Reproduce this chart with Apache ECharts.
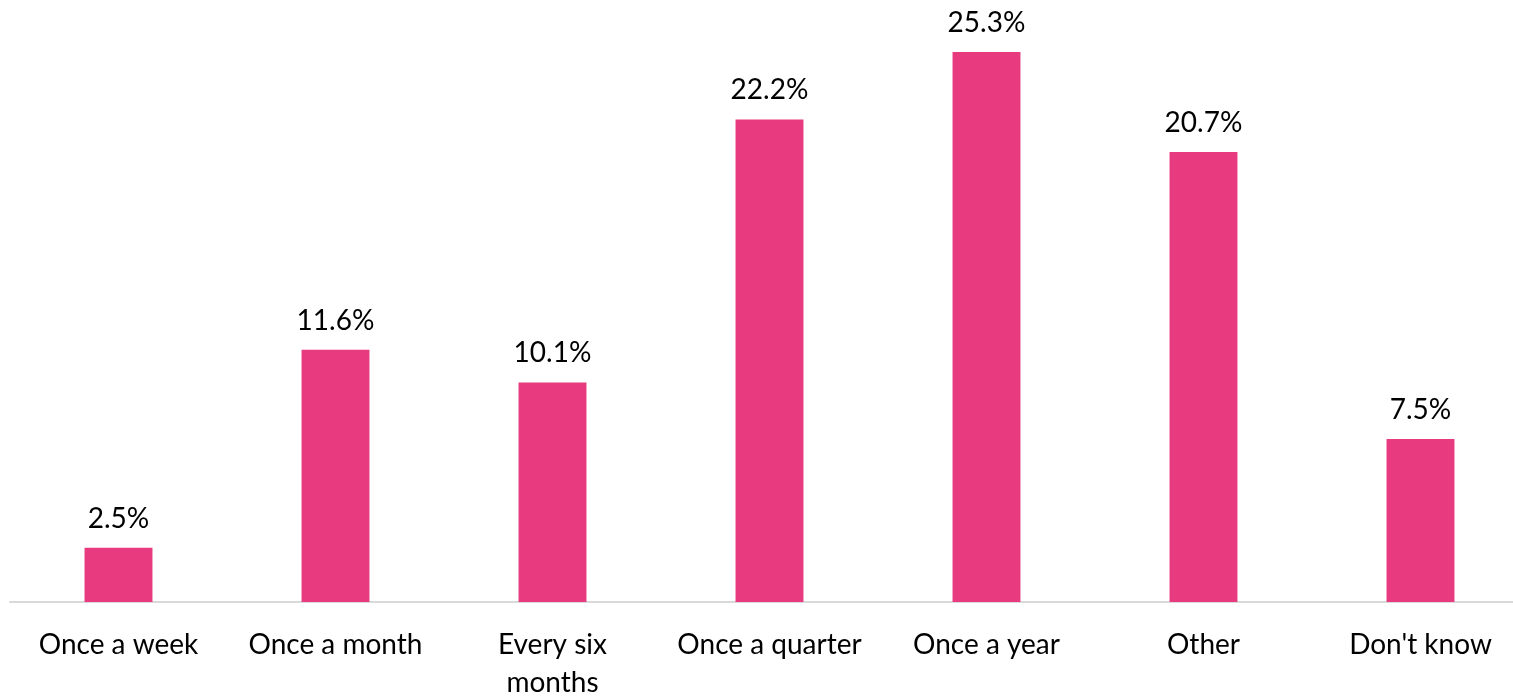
<!DOCTYPE html>
<html>
<head>
<meta charset="utf-8">
<script src="https://cdn.jsdelivr.net/npm/echarts@6/dist/echarts.min.js"></script>
<style>
  html, body { margin: 0; padding: 0; background: #ffffff; overflow: hidden; }
  #chart { width: 1513px; height: 696px; }
</style>
</head>
<body>
<div id="chart"></div>
<script>
// How often respondents do it (share of answers, %)
const categories = ['Once a week', 'Once a month', 'Every six\nmonths', 'Once a quarter', 'Once a year', 'Other', "Don't know"];
const shares = [2.5, 11.6, 10.1, 22.2, 25.3, 20.7, 7.5];

const chart = echarts.init(document.getElementById('chart'));
chart.setOption({
  animation: false,
  backgroundColor: '#ffffff',
  grid: {
    left: 10, right: -16, top: 52, bottom: 94,
    containLabel: false,
    outerBoundsMode: 'none'
  },
  xAxis: {
    type: 'category',
    data: categories,
    axisTick: { show: false },
    axisLine: { lineStyle: { color: '#d9d9d9', width: 2 } },
    axisLabel: {
      color: '#000000',
      fontFamily: 'Lato',
      fontSize: 28,
      lineHeight: 38,
      margin: 24,
      interval: 0
    }
  },
  yAxis: {
    type: 'value',
    min: 0,
    max: 25.3,
    show: false,
    splitLine: { show: false }
  },
  series: [{
    type: 'bar',
    data: shares,
    barWidth: '31.3%',
    itemStyle: { color: '#e83a7f' },
    label: {
      show: true,
      position: 'top',
      distance: 15,
      color: '#000000',
      fontFamily: 'Lato',
      fontSize: 28,
      formatter: p => p.value.toFixed(1) + '%'
    }
  }]
});
</script>
</body>
</html>
